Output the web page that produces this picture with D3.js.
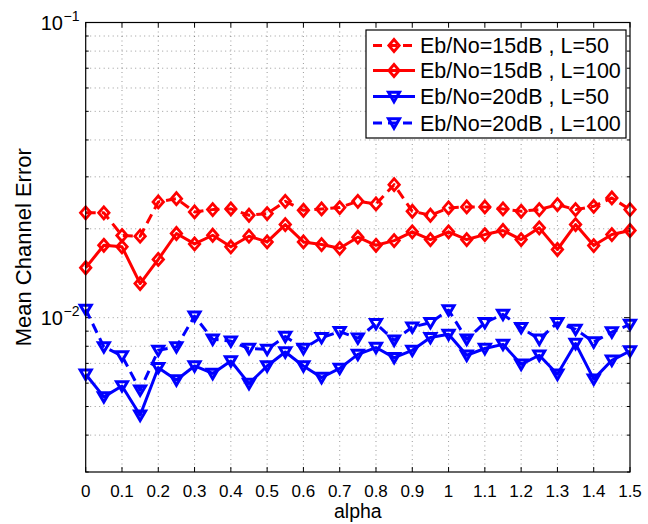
<!DOCTYPE html>
<html><head><meta charset="utf-8">
<script src="https://cdn.jsdelivr.net/npm/d3@7"></script>
<style>html,body{margin:0;padding:0;background:#fff}svg{display:block}text{font-family:"Liberation Sans",Arial,Helvetica,sans-serif}</style>
</head><body>
<svg id="c" width="648" height="524"></svg>
<script>
const alpha = d3.range(31).map(i => +(i*0.05).toFixed(2));
const xTicks = [0,0.1,0.2,0.3,0.4,0.5,0.6,0.7,0.8,0.9,1,1.1,1.2,1.3,1.4,1.5];
const xTickLabels = ["0","0.1","0.2","0.3","0.4","0.5","0.6","0.7","0.8","0.9","1","1.1","1.2","1.3","1.4","1.5"];
const yMajor = [0.01, 0.1];
const yMajorExp = ["\u22122", "\u22121"];
const yMinor = [0.003,0.004,0.005,0.006,0.007,0.008,0.009,0.02,0.03,0.04,0.05,0.06,0.07,0.08,0.09];
const seriesNames = ["Eb/No=15dB , L=50","Eb/No=15dB , L=100","Eb/No=20dB , L=50","Eb/No=20dB , L=100"];
const red15_L50 = [0.02265,0.02265,0.01898,0.01888,0.02467,0.02531,0.02282,0.02323,0.02336,0.02223,0.02252,0.02478,0.02311,0.02336,0.0236,0.02478,0.02428,0.02822,0.02293,0.02223,0.02354,0.02373,0.02373,0.02336,0.02293,0.02323,0.02415,0.02323,0.02384,0.02544,0.02323];
const red15_L100 = [0.01476,0.01759,0.01738,0.01305,0.01575,0.01928,0.01778,0.01902,0.01738,0.01888,0.01806,0.02067,0.01806,0.01769,0.01718,0.01873,0.01759,0.01824,0.01954,0.01839,0.01954,0.01839,0.01912,0.01974,0.01839,0.02015,0.01702,0.02067,0.01755,0.01912,0.01974];
const blue20_L50 = [0.00643,0.00539,0.00587,0.00467,0.00677,0.00615,0.00686,0.00647,0.00713,0.00598,0.00686,0.00765,0.00686,0.00627,0.00673,0.00751,0.00792,0.00732,0.00775,0.00856,0.00878,0.00746,0.00786,0.00812,0.00695,0.00746,0.00643,0.00817,0.00619,0.00717,0.00771];
const blue20_L100 = [0.01067,0.00796,0.00742,0.00568,0.00775,0.00796,0.01012,0.00845,0.00833,0.00786,0.00781,0.00863,0.00786,0.00856,0.00897,0.00852,0.00954,0.00838,0.00929,0.00962,0.01061,0.00845,0.00962,0.01026,0.00925,0.00845,0.00962,0.00913,0.00827,0.00894,0.00949];

const series = [
  {name: seriesNames[0], values: red15_L50, color: "#ff0000", dash: "10,6", marker: "diamond"},
  {name: seriesNames[1], values: red15_L100, color: "#ff0000", dash: null, marker: "diamond"},
  {name: seriesNames[2], values: blue20_L50, color: "#0000ff", dash: null, marker: "tri"},
  {name: seriesNames[3], values: blue20_L100, color: "#0000ff", dash: "10,6", marker: "tri"}
];

const L = 85.7, R = 630, T = 22.5, B = 472;
const x = d3.scaleLinear().domain([0, 1.5]).range([L, R]);
const y = d3.scaleLog().domain([0.003, 0.1]).range([B, T]);
const svg = d3.select("#c");
svg.append("rect").attr("width",648).attr("height",524).attr("fill","#fff");

// grid
const grid = svg.append("g").attr("stroke","#000").attr("stroke-opacity",0.5).attr("stroke-width",0.8).attr("stroke-dasharray","1,3.5");
grid.selectAll(".gx").data(xTicks.slice(1,-1)).join("line")
  .attr("x1", d=>x(d)).attr("x2", d=>x(d)).attr("y1", T).attr("y2", B);
grid.selectAll(".gy").data(yMinor.concat([0.01]).filter(d=>d>0.003)).join("line")
  .attr("y1", d=>y(d)).attr("y2", d=>y(d)).attr("x1", L).attr("x2", R);

// ticks
const tk = svg.append("g").attr("stroke","#000").attr("stroke-width",1);
xTicks.forEach(d => {
  tk.append("line").attr("x1",x(d)).attr("x2",x(d)).attr("y1",B).attr("y2",B-5);
  tk.append("line").attr("x1",x(d)).attr("x2",x(d)).attr("y1",T).attr("y2",T+5);
});
yMinor.forEach(d => {
  tk.append("line").attr("x1",L).attr("x2",L+3).attr("y1",y(d)).attr("y2",y(d));
  tk.append("line").attr("x1",R).attr("x2",R-3).attr("y1",y(d)).attr("y2",y(d));
});
yMajor.forEach(d => {
  tk.append("line").attr("x1",L).attr("x2",L+6).attr("y1",y(d)).attr("y2",y(d));
  tk.append("line").attr("x1",R).attr("x2",R-6).attr("y1",y(d)).attr("y2",y(d));
});

// x tick labels
svg.append("g").selectAll("text").data(xTicks).join("text")
  .attr("x", d=>x(d)).attr("y", B+25).attr("text-anchor","middle")
  .attr("font-size",17).text((d,i)=>xTickLabels[i]);

// y tick labels
yMajor.forEach((d,i) => {
  svg.append("text").attr("x", 63).attr("y", y(d)+7.5).attr("text-anchor","end").attr("font-size",20).text("10");
  svg.append("text").attr("x", 63.5).attr("y", y(d)-2).attr("font-size",14).text(yMajorExp[i]);
});

// axis labels
svg.append("text").attr("x", (L+R)/2).attr("y", 518).attr("text-anchor","middle").attr("font-size",19.5).text("alpha");
svg.append("text").attr("transform", `translate(30.5,${(T+B)/2}) rotate(-90)`).attr("text-anchor","middle").attr("font-size",22).text("Mean Channel Error");

// series
const line = d3.line().x((d,i)=>x(alpha[i])).y(d=>y(d));
function marker(g, type, cx, cy, color){
  if(type==="diamond"){
    g.append("path").attr("d", `M${cx},${cy-6}L${cx+5.2},${cy}L${cx},${cy+6}L${cx-5.2},${cy}Z`)
      .attr("fill","none").attr("stroke",color).attr("stroke-width",2.8);
  } else {
    g.append("path").attr("d", `M${cx-5.5},${cy-4.2}L${cx+5.5},${cy-4.2}L${cx},${cy+5.2}Z`)
      .attr("fill","none").attr("stroke",color).attr("stroke-width",3).attr("stroke-linejoin","miter");
  }
}
series.forEach(s => {
  const g = svg.append("g");
  g.append("path").attr("d", line(s.values)).attr("fill","none").attr("stroke",s.color)
    .attr("stroke-width",3).attr("stroke-dasharray", s.dash).attr("stroke-linejoin","round");
  s.values.forEach((v,i) => marker(g, s.marker, x(alpha[i]), y(v), s.color));
});

// axis box
svg.append("rect").attr("x",L).attr("y",T).attr("width",R-L).attr("height",B-T)
  .attr("fill","none").attr("stroke","#000").attr("stroke-width",1.2);

// legend
const lg = svg.append("g");
lg.append("rect").attr("x",366).attr("y",30).attr("width",260).attr("height",108)
  .attr("fill","#fff").attr("stroke","#000").attr("stroke-width",1.2);
const rowY = [45.5, 70.5, 96.5, 123];
series.forEach((s,i) => {
  const cy = rowY[i];
  lg.append("line").attr("x1",373).attr("x2",415).attr("y1",cy).attr("y2",cy)
    .attr("stroke",s.color).attr("stroke-width",3).attr("stroke-dasharray", s.dash ? "9,6" : null);
  marker(lg, s.marker, 394, cy, s.color);
  lg.append("text").attr("x",420).attr("y",cy+7.5).attr("font-size",21.5).text(s.name);
});
</script>
</body></html>
